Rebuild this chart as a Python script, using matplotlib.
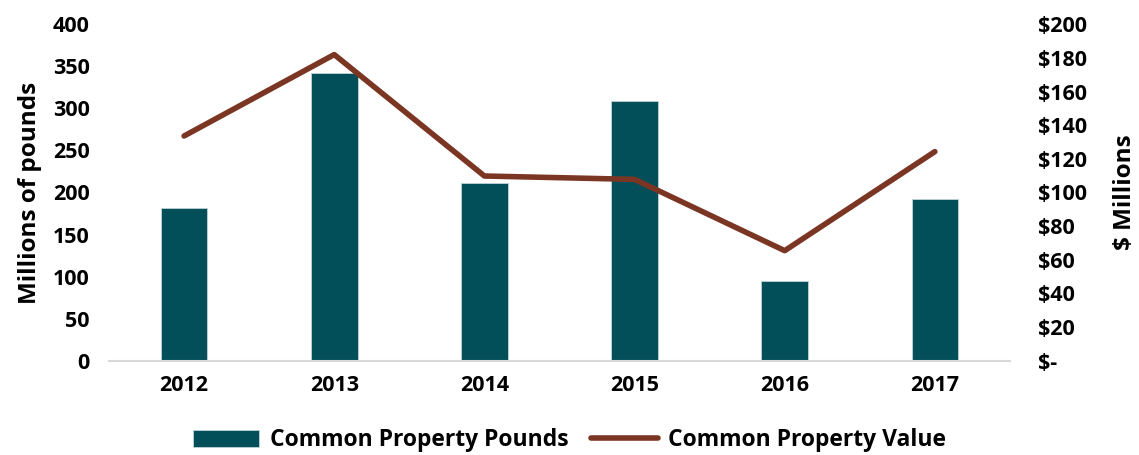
import matplotlib
matplotlib.use("Agg")
import matplotlib.pyplot as plt
from matplotlib.ticker import FuncFormatter

years = ["2012", "2013", "2014", "2015", "2016", "2017"]
pounds = [182, 342, 211, 309, 95, 192]
value = [133.6, 182, 109.8, 107.8, 65.4, 124.3]
left_ticks = [0, 50, 100, 150, 200, 250, 300, 350, 400]
right_ticks = [0, 20, 40, 60, 80, 100, 120, 140, 160, 180, 200]

plt.rcParams['font.family'] = ['Open Sans', 'DejaVu Sans']
plt.rcParams['font.weight'] = 'bold'

bar_color = "#024F5A"
line_color = "#7B3523"

fig = plt.figure(figsize=(11.39, 4.55), dpi=100)
ax = fig.add_axes([0.0957, 0.2073, 0.791, 0.7393])
x = list(range(len(years)))
bars = ax.bar(x, pounds, width=0.31, color=bar_color, edgecolor="#BFD3D6", linewidth=0.6,
              label="Common Property Pounds", zorder=2)
ax.set_xlim(-0.5, len(years) - 0.5)
ax.set_ylim(0, 400)
ax.set_yticks(left_ticks)
ax.set_xticks(x)
ax.set_xticklabels(years)
for s in ["top", "right", "left"]:
    ax.spines[s].set_visible(False)
ax.spines["bottom"].set_color("#D9D9D9")
ax.spines["bottom"].set_linewidth(1.5)
ax.tick_params(axis="both", length=0, labelsize=15.5)
ax.tick_params(axis="y", pad=14)
ax.tick_params(axis="x", pad=10)
ax.set_ylabel("Millions of pounds", fontsize=17.5, fontweight="bold", labelpad=8)

ax2 = ax.twinx()
line, = ax2.plot(x, value, color=line_color, linewidth=4, solid_capstyle="round",
                 label="Common Property Value", zorder=3)
ax2.set_ylim(0, 200)
ax2.set_yticks(right_ticks)
ax2.yaxis.set_major_formatter(FuncFormatter(lambda v, p: "$-" if v == 0 else f"${int(v)}"))
for s in ["top", "right", "left", "bottom"]:
    ax2.spines[s].set_visible(False)
ax2.tick_params(axis="y", length=0, labelsize=15.5, pad=20)
ax2.set_ylabel("$ Millions", fontsize=17.5, fontweight="bold", labelpad=19)

for lbl in ax.get_xticklabels() + ax.get_yticklabels() + ax2.get_yticklabels():
    lbl.set_fontweight("bold")

fig.legend([bars, line], ["Common Property Pounds", "Common Property Value"],
           loc="center", bbox_to_anchor=(0.5, 0.032), ncol=2, frameon=False,
           handlelength=2.9, handleheight=0.8, handletextpad=0.45,
           columnspacing=1.0, prop={"weight": "bold", "size": 16.5})

fig.savefig("out.png", dpi=100)
